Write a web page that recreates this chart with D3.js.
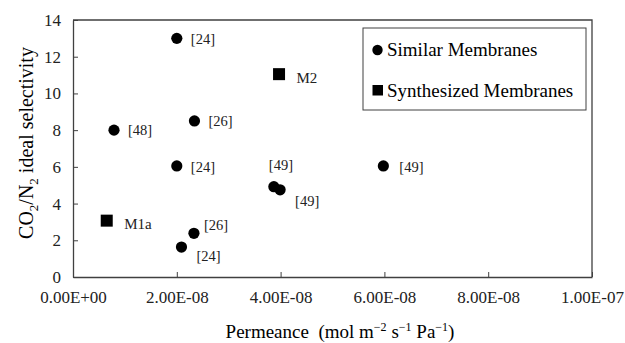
<!DOCTYPE html>
<html>
<head>
<meta charset="utf-8">
<script src="https://cdn.jsdelivr.net/npm/d3@7"></script>
<style>
  body { margin: 0; background: #fff; }
</style>
</head>
<body>
<script>
// data
var similarX = [2.0e-8, 2.34e-8, 0.79e-8, 2.0e-8, 5.98e-8, 3.87e-8, 3.99e-8, 2.33e-8, 2.09e-8];
var similarY = [13.0, 8.5, 8.0, 6.05, 6.05, 4.92, 4.75, 2.38, 1.63];
var synthX = [3.97e-8, 0.65e-8];
var synthY = [11.05, 3.07];
var synthNames = ["M2", "M1a"];
var xTicks = [0, 2e-8, 4e-8, 6e-8, 8e-8, 1e-7];
var xTickLabels = ["0.00E+00", "2.00E-08", "4.00E-08", "6.00E-08", "8.00E-08", "1.00E-07"];
var yTicks = [0, 2, 4, 6, 8, 10, 12, 14];

// reference labels, with small offsets so they sit like in the figure
var refLabels = [
  {x: 2.0e-8, y: 13.0, text: "[24]", dx: 14, dy: 6},
  {x: 2.34e-8, y: 8.5, text: "[26]", dx: 14, dy: 5},
  {x: 0.79e-8, y: 8.0, text: "[48]", dx: 14, dy: 5},
  {x: 2.0e-8, y: 6.05, text: "[24]", dx: 14, dy: 6},
  {x: 5.98e-8, y: 6.05, text: "[49]", dx: 16, dy: 6},
  {x: 3.87e-8, y: 4.92, text: "[49]", dx: -5, dy: -17},
  {x: 3.99e-8, y: 4.75, text: "[49]", dx: 15, dy: 16},
  {x: 2.33e-8, y: 2.38, text: "[26]", dx: 10, dy: -3},
  {x: 2.09e-8, y: 1.63, text: "[24]", dx: 15, dy: 14}
];

var font = "'Liberation Serif', 'DejaVu Serif', serif";
var width = 625, height = 343;
var margin = {top: 20, right: 33, bottom: 66, left: 73};
var w = width - margin.left - margin.right,
    h = height - margin.top - margin.bottom;

var x = d3.scaleLinear().domain([0, 1e-7]).range([0, w]);
var y = d3.scaleLinear().domain([0, 14]).range([h, 0]);

var svg = d3.select("body").append("svg")
    .attr("width", width)
    .attr("height", height)
    .attr("font-family", font);

var g = svg.append("g")
    .attr("transform", "translate(" + margin.left + "," + margin.top + ")");

var lineColor = "#404040";

// frame (top + right)
g.append("path")
    .attr("d", "M0,0H" + w + "V" + h)
    .attr("fill", "none")
    .attr("stroke", lineColor)
    .attr("stroke-width", 1.3);

// x axis, ticks pointing inward
var xAxis = g.append("g")
    .attr("transform", "translate(0," + h + ")")
    .call(d3.axisBottom(x).tickValues(xTicks)
      .tickFormat(function(d, i) { return xTickLabels[i]; })
      .tickSizeInner(-5).tickSizeOuter(0).tickPadding(14))
    .attr("font-family", font)
    .attr("font-size", 17);
xAxis.select(".domain").attr("stroke", lineColor).attr("stroke-width", 1.3);
xAxis.selectAll(".tick line").attr("stroke", lineColor);
xAxis.selectAll(".tick text").attr("fill", "#222");
xAxis.selectAll(".tick line").filter(function(d) { return d === 0; }).remove();

// y axis, ticks pointing inward
var yAxis = g.append("g")
    .call(d3.axisLeft(y).tickValues(yTicks)
      .tickSizeInner(-5).tickSizeOuter(0).tickPadding(12))
    .attr("font-family", font)
    .attr("font-size", 17);
yAxis.select(".domain").attr("stroke", lineColor).attr("stroke-width", 1.3);
yAxis.selectAll(".tick line").attr("stroke", lineColor);
yAxis.selectAll(".tick text").attr("fill", "#222");

// similar membranes (circles)
g.selectAll("circle.similar")
    .data(similarX)
    .enter().append("circle")
    .attr("class", "similar")
    .attr("cx", function(d) { return x(d); })
    .attr("cy", function(d, i) { return y(similarY[i]); })
    .attr("r", 5.6)
    .attr("fill", "#000");

// synthesized membranes (squares)
g.selectAll("rect.synth")
    .data(synthX)
    .enter().append("rect")
    .attr("class", "synth")
    .attr("x", function(d) { return x(d) - 6; })
    .attr("y", function(d, i) { return y(synthY[i]) - 6; })
    .attr("width", 12)
    .attr("height", 12)
    .attr("fill", "#000");

// point labels
g.selectAll("text.ref")
    .data(refLabels)
    .enter().append("text")
    .attr("class", "ref")
    .attr("x", function(d) { return x(d.x) + d.dx; })
    .attr("y", function(d) { return y(d.y) + d.dy; })
    .attr("font-size", 14.5)
    .attr("fill", "#222")
    .text(function(d) { return d.text; });

g.selectAll("text.synthname")
    .data(synthNames)
    .enter().append("text")
    .attr("class", "synthname")
    .attr("x", function(d, i) { return x(synthX[i]) + 17.5; })
    .attr("y", function(d, i) { return y(synthY[i]) + 8.5; })
    .attr("font-size", 15)
    .attr("fill", "#222")
    .text(function(d) { return d; });

// legend
var legend = g.append("g")
    .attr("transform", "translate(" + (363 - margin.left) + "," + (28 - margin.top) + ")");
legend.append("rect")
    .attr("width", 223)
    .attr("height", 82)
    .attr("fill", "#fff")
    .attr("stroke", lineColor)
    .attr("stroke-width", 1);
legend.append("circle")
    .attr("cx", 14.5).attr("cy", 22).attr("r", 5.2).attr("fill", "#000");
legend.append("text")
    .attr("x", 24).attr("y", 28)
    .attr("font-size", 19)
    .text("Similar Membranes");
legend.append("rect")
    .attr("x", 9.5).attr("y", 57).attr("width", 10.5).attr("height", 10.5).attr("fill", "#000");
legend.append("text")
    .attr("x", 24).attr("y", 68.5)
    .attr("font-size", 19)
    .text("Synthesized Membranes");

// axis titles
svg.append("text")
    .attr("x", 340)
    .attr("y", 338)
    .attr("text-anchor", "middle")
    .attr("font-size", 19)
    .html("Permeance&#160; (mol m<tspan dy='-7' font-size='12px'>\u22122</tspan><tspan dy='7'> s</tspan><tspan dy='-7' font-size='12px'>\u22121</tspan><tspan dy='7'> Pa</tspan><tspan dy='-7' font-size='12px'>\u22121</tspan><tspan dy='7'>)</tspan>");

svg.append("text")
    .attr("transform", "translate(33,143) rotate(-90)")
    .attr("text-anchor", "middle")
    .attr("font-size", 20)
    .html("CO<tspan dy='5' font-size='13px'>2</tspan><tspan dy='-5'>/N</tspan><tspan dy='5' font-size='13px'>2</tspan><tspan dy='-5'> ideal selectivity</tspan>");
</script>
</body>
</html>
